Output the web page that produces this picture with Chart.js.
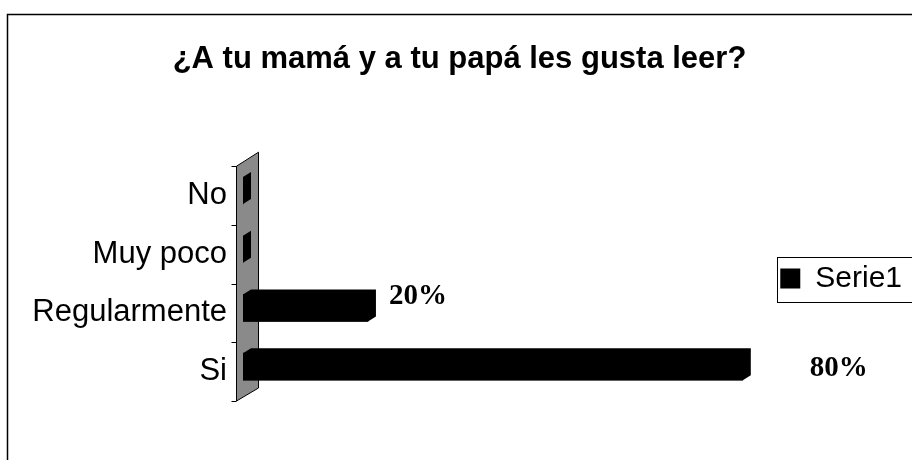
<!DOCTYPE html>
<html>
<head>
<meta charset="utf-8">
<script src="https://cdn.jsdelivr.net/npm/chart.js@4.4.0/dist/chart.umd.min.js"></script>
<style>
    html, body { margin: 0; padding: 0; background: #fff; }
    #wrap { width: 912px; height: 460px; }
</style>
</head>
<body>
<div id="wrap"><canvas id="chart"></canvas></div>
<script>
    "use strict";

    var chartTitle = "¿A tu mamá y a tu papá les gusta leer?";
    var categories = ["No", "Muy poco", "Regularmente", "Si"];
    var serie1 = [0, 0, 20, 80];
    var serie1Labels = ["", "", "20%", "80%"];

    // look of the old 3D bars
    var depth = { x: 8, y: -5 };
    var labelShift = [[0, 0], [0, 0], [13, -11], [59, 2]];

    var fontSans = "'Liberation Sans', Arial, sans-serif";
    var fontSerif = "'Liberation Serif', 'Times New Roman', serif";

    var frame3d = {
        id: 'frame3d',
        beforeDraw: function (chart) {
            var ctx = chart.ctx;
            ctx.save();
            ctx.strokeStyle = '#000';
            ctx.lineWidth = 1.5;
            ctx.strokeRect(7.5, 14.5, 1000, 1000);

            // box round the legend
            var hb = chart.legend.legendHitBoxes[0];
            if (hb) {
                var cy = hb.top + hb.height / 2;
                ctx.lineWidth = 1;
                ctx.strokeRect(Math.round(hb.left) - 2.5, Math.round(cy - 22) + 0.5, 400, 45);
            }
            ctx.restore();
        },
        beforeDatasetsDraw: function (chart) {
            var a = chart.chartArea;
            var ctx = chart.ctx;
            var sh = 5;
            var left = Math.round(a.left) - 6.5;
            var right = Math.round(a.left) + 15.5;

            ctx.save();
            // grey wall
            ctx.beginPath();
            ctx.moveTo(left, a.top + sh);
            ctx.lineTo(right, a.top - 9);
            ctx.lineTo(right, a.bottom - 8);
            ctx.lineTo(left, a.bottom + sh);
            ctx.closePath();
            ctx.fillStyle = '#8a8a8a';
            ctx.fill();
            ctx.strokeStyle = '#000';
            ctx.lineWidth = 1;
            ctx.stroke();

            // tick marks between categories
            var yScale = chart.scales.y;
            var step = Math.abs(yScale.getPixelForValue(1) - yScale.getPixelForValue(0));
            ctx.beginPath();
            for (var i = 0; i <= categories.length; i++) {
                var ty = Math.round(yScale.getPixelForValue(0) - step / 2 + i * step + sh) + 0.5;
                ctx.moveTo(left - 5, ty);
                ctx.lineTo(left, ty);
            }
            ctx.stroke();
            ctx.restore();
        },
        afterDatasetsDraw: function (chart) {
            var ctx = chart.ctx;
            var meta = chart.getDatasetMeta(0);
            ctx.save();
            meta.data.forEach(function (el, i) {
                var p = el.getProps(['x', 'y', 'base', 'height'], true);
                var top = p.y - p.height / 2;
                var bottom = p.y + p.height / 2;
                ctx.beginPath();
                ctx.moveTo(p.base, top);
                ctx.lineTo(p.base + depth.x, top + depth.y);
                ctx.lineTo(p.x + depth.x, top + depth.y);
                ctx.lineTo(p.x + depth.x, bottom + depth.y);
                ctx.lineTo(p.x, bottom);
                ctx.lineTo(p.base, bottom);
                ctx.closePath();
                ctx.fillStyle = '#000';
                ctx.fill();

                if (serie1Labels[i]) {
                    ctx.font = 'bold 29px ' + fontSerif;
                    ctx.textAlign = 'left';
                    ctx.textBaseline = 'middle';
                    ctx.fillText(serie1Labels[i], p.x + depth.x + labelShift[i][0], p.y + labelShift[i][1]);
                }
            });
            ctx.restore();
        }
    };

    var ctx = document.getElementById('chart').getContext('2d');
    var myChart = new Chart(ctx, {
        type: 'bar',
        data: {
            labels: categories,
            datasets: [{
                label: 'Serie1',
                data: serie1,
                backgroundColor: '#000',
                borderWidth: 0,
                barThickness: 27
            }]
        },
        options: {
            indexAxis: 'y',
            responsive: true,
            maintainAspectRatio: false,
            animation: false,
            layout: {
                padding: { top: 14, left: 7, right: 0, bottom: 64 }
            },
            scales: {
                x: {
                    display: false,
                    min: 0,
                    max: 84.4
                },
                y: {
                    grid: { display: false, drawTicks: false },
                    border: { display: false },
                    ticks: {
                        color: '#000',
                        padding: 16,
                        labelOffset: 5,
                        font: { family: fontSans, size: 31 }
                    },
                    afterFit: function (scale) {
                        scale.width = 236;
                    }
                }
            },
            plugins: {
                title: {
                    display: true,
                    text: chartTitle,
                    color: '#000',
                    font: { family: fontSans, size: 31, weight: 'bold' },
                    padding: { top: 27, bottom: 83 }
                },
                legend: {
                    position: 'right',
                    fullSize: false,
                    labels: {
                        color: '#000',
                        boxWidth: 20,
                        boxHeight: 20,
                        font: { family: fontSans, size: 30 }
                    }
                },
                tooltip: { enabled: false }
            }
        },
        plugins: [frame3d]
    });
</script>
</body>
</html>
